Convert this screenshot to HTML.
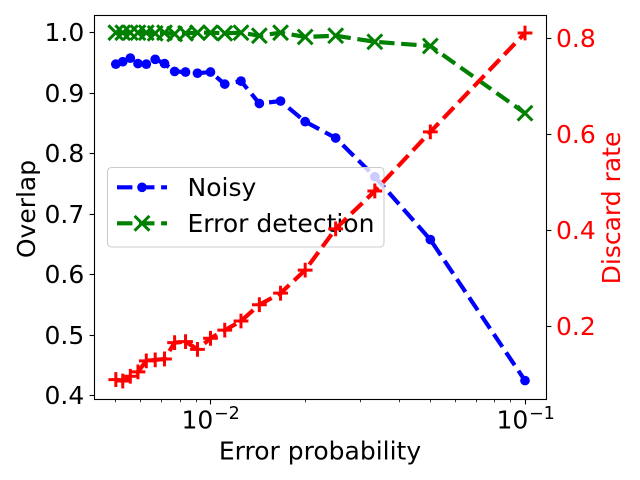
<!DOCTYPE html>
<html>
<head>
<meta charset="utf-8">
<style>
html,body{margin:0;padding:0;background:#fff;width:640px;height:480px;overflow:hidden}
svg{display:block}
text{font-family:"DejaVu Sans","Liberation Sans",sans-serif}
</style>
</head>
<body>
<svg id="chart" xmlns="http://www.w3.org/2000/svg" width="640" height="480" viewBox="0 0 640 480"></svg>
<script>
const errorProbability = [0.005, 0.00526, 0.00556, 0.00588, 0.00625, 0.00667, 0.00714, 0.00769, 0.00833, 0.00909, 0.01, 0.0111, 0.0125, 0.0143, 0.0167, 0.02, 0.025, 0.0333, 0.05, 0.1];
const noisyOverlap = [0.948, 0.952, 0.958, 0.949, 0.948, 0.956, 0.949, 0.936, 0.935, 0.933, 0.935, 0.915, 0.920, 0.883, 0.887, 0.853, 0.826, 0.762, 0.658, 0.425];
const errorDetectionOverlap = [1.0, 1.0, 1.0, 1.0, 1.0, 0.999, 1.0, 0.998, 0.999, 1.0, 1.0, 0.999, 1.0, 0.995, 1.0, 0.993, 0.995, 0.985, 0.978, 0.867];
const discardRate = [0.089, 0.086, 0.096, 0.105, 0.128, 0.130, 0.132, 0.166, 0.168, 0.152, 0.175, 0.192, 0.211, 0.245, 0.269, 0.317, 0.403, 0.482, 0.605, 0.811];
const xMajorTicks = [0.01, 0.1];
const xMajorExponents = ["−2", "−1"];
const xMinorTicks = [0.005, 0.006, 0.007, 0.008, 0.009, 0.02, 0.03, 0.04, 0.05, 0.06, 0.07, 0.08, 0.09];
const yLeftTicks = [0.4, 0.5, 0.6, 0.7, 0.8, 0.9, 1.0];
const yRightTicks = [0.2, 0.4, 0.6, 0.8];

const NS = 'http://www.w3.org/2000/svg';
const svg = document.getElementById('chart');
const plot = {left: 94.5, right: 546.5, top: 15.5, bottom: 399.5};
const FONT = 25;

function xScale(p) { return 525 + (Math.log10(p) + 1) * 314.5; }
function yLeft(v) { return 32.7 + (1 - v) * 605; }
function yRight(v) { return 38.3 + (0.8 - v) * 480; }

function make(tag, attrs, parent) {
  const el = document.createElementNS(NS, tag);
  for (const k in attrs) el.setAttribute(k, attrs[k]);
  (parent || svg).appendChild(el);
  return el;
}
function group(name) {
  const g = make('g', {});
  
  
  return g;
}
const DASH = '15.4 6.67';

function drawLine(parent, pts, color) {
  const line = make('polyline', {
    points: pts.map(p => p[0].toFixed(2) + ',' + p[1].toFixed(2)).join(' '),
    fill: 'none', stroke: color, 'stroke-width': 4.17,
    'stroke-dasharray': DASH, 'stroke-linejoin': 'round'
  }, parent);
  
  
}
function drawMarker(parent, kind, cx, cy, color) {
  let m;
  if (kind === 'o') {
    m = make('circle', {cx: cx, cy: cy, r: 4.85, fill: color}, parent);
  } else if (kind === 'x') {
    const r = 7.4;
    m = make('path', {d: `M${cx-r} ${cy-r}L${cx+r} ${cy+r}M${cx-r} ${cy+r}L${cx+r} ${cy-r}`, stroke: color, 'stroke-width': 3, fill: 'none'}, parent);
  } else {
    const r = 7.4;
    m = make('path', {d: `M${cx-r} ${cy}L${cx+r} ${cy}M${cx} ${cy-r}L${cx} ${cy+r}`, stroke: color, 'stroke-width': 3, fill: 'none'}, parent);
  }
  
  
}
function drawSeries(name, values, yFn, color, kind) {
  const g = group(name);
  const pts = errorProbability.map((p, i) => [xScale(p), yFn(values[i])]);
  drawLine(g, pts, color);
  pts.forEach(p => drawMarker(g, kind, p[0], p[1], color));
}

make('rect', {x: 0, y: 0, width: 640, height: 480, fill: '#fff'});

drawSeries('noisy-series', noisyOverlap, yLeft, '#0000ff', 'o');
drawSeries('error-detection-series', errorDetectionOverlap, yLeft, '#008000', 'x');

/* legend sits above the first axes' series, under the twin axes series */
const legend = group('legend');
const frame = make('rect', {x: 107.5, y: 167.5, width: 276.5, height: 79.5, rx: 4, ry: 4, fill: '#fff', 'fill-opacity': 0.8, stroke: '#cccccc', 'stroke-width': 1.1}, legend);



const entry1 = make('g', {}, legend);


drawLine(entry1, [[117, 187.3], [167, 187.3]], '#0000ff');
drawMarker(entry1, 'o', 142, 187.3, '#0000ff');
const label1 = make('text', {x: 187.5, y: 196, 'font-size': FONT, fill: '#000'}, entry1);
label1.textContent = 'Noisy';

const entry2 = make('g', {}, legend);


drawLine(entry2, [[117, 223.3], [167, 223.3]], '#008000');
drawMarker(entry2, 'x', 142, 223.3, '#008000');
const label2 = make('text', {x: 187.5, y: 232, 'font-size': FONT, fill: '#000'}, entry2);
label2.textContent = 'Error detection';

drawSeries('discard-rate-series', discardRate, yRight, '#ff0000', '+');

/* spines */
const spines = group('axes-frame');
make('rect', {x: plot.left, y: plot.top, width: plot.right - plot.left, height: plot.bottom - plot.top, fill: 'none', stroke: '#000', 'stroke-width': 1.1}, spines);

/* x axis */
const xAxis = group('x-axis');
xMinorTicks.forEach(t => {
  const x = Math.floor(xScale(t)) + 0.5;
  const tick = make('line', {x1: x, x2: x, y1: plot.bottom, y2: plot.bottom + 2.8, stroke: '#000', 'stroke-width': 0.8}, xAxis);
  
  
});
xMajorTicks.forEach((t, i) => {
  const x = Math.floor(xScale(t)) + 0.5;
  const tick = make('line', {x1: x, x2: x, y1: plot.bottom, y2: plot.bottom + 4.9, stroke: '#000', 'stroke-width': 1.1}, xAxis);
  
  
  const base = make('text', {x: x - 29, y: 428.5, 'font-size': FONT, fill: '#000'}, xAxis);
  base.textContent = '10';
  
  
  const sup = make('text', {x: x + 3.5, y: 419, 'font-size': 17.5, fill: '#000'}, xAxis);
  sup.textContent = xMajorExponents[i];
  
  
});
const xTitle = make('text', {x: 320, y: 459.3, 'font-size': FONT, 'text-anchor': 'middle', fill: '#000'}, xAxis);
xTitle.textContent = 'Error probability';



/* left y axis */
const leftAxis = group('left-y-axis');
yLeftTicks.forEach(t => {
  const y = Math.floor(yLeft(t)) + 0.5;
  const tick = make('line', {x1: plot.left - 4.9, x2: plot.left, y1: y, y2: y, stroke: '#000', 'stroke-width': 1.1}, leftAxis);
  
  
  const lab = make('text', {x: 84.3, y: y + 8.3, 'font-size': FONT, 'text-anchor': 'end', fill: '#000'}, leftAxis);
  lab.textContent = t.toFixed(1);
  
  
});
const yTitleL = make('text', {transform: 'translate(35,209) rotate(-90)', 'font-size': FONT, 'text-anchor': 'middle', fill: '#000'}, leftAxis);
yTitleL.textContent = 'Overlap';



/* right y axis */
const rightAxis = group('right-y-axis');
yRightTicks.forEach(t => {
  const y = Math.floor(yRight(t)) + 0.5;
  const tick = make('line', {x1: plot.right, x2: plot.right + 4.9, y1: y, y2: y, stroke: '#000', 'stroke-width': 1.1}, rightAxis);
  
  
  const lab = make('text', {x: 556, y: y + 8.7, 'font-size': FONT, fill: '#ff0000'}, rightAxis);
  lab.textContent = t.toFixed(1);
  
  
});
const yTitleR = make('text', {transform: 'translate(620,208) rotate(-90)', 'font-size': FONT, 'text-anchor': 'middle', fill: '#ff0000'}, rightAxis);
yTitleR.textContent = 'Discard rate';


</script>
</body>
</html>
